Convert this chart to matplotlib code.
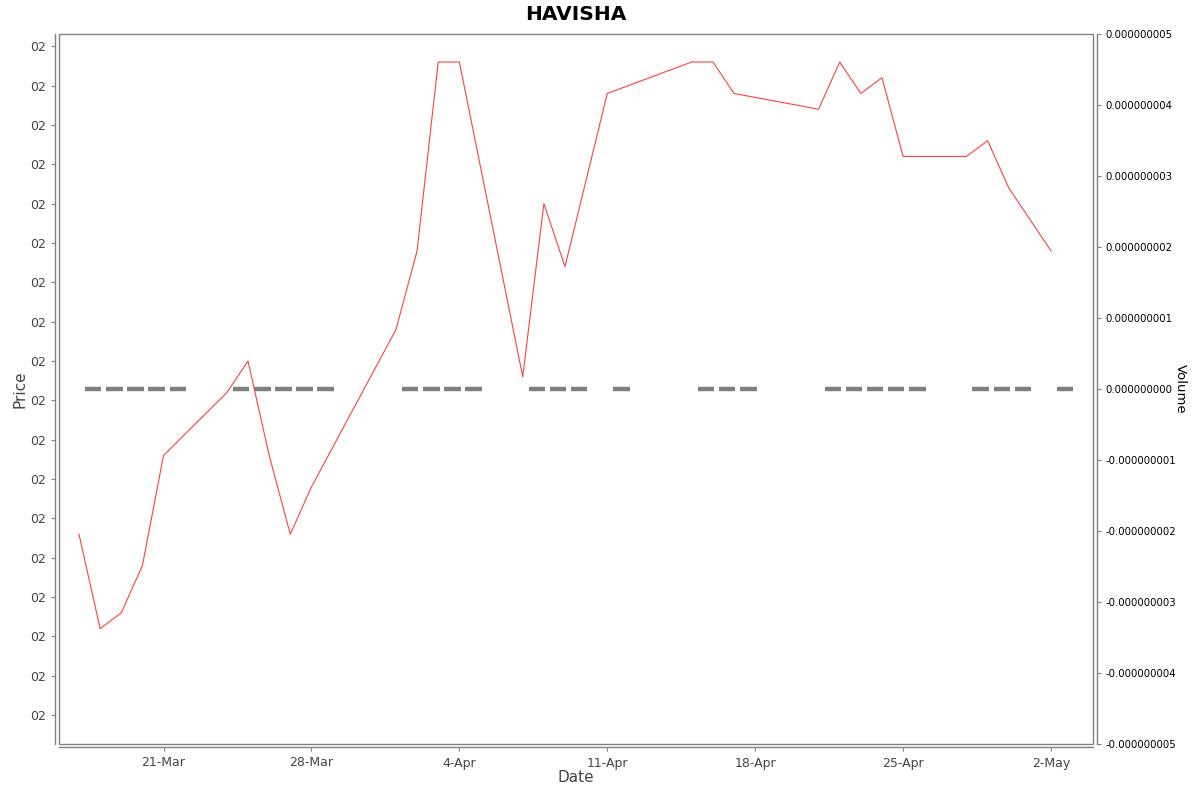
import matplotlib
matplotlib.use("Agg")
import matplotlib.pyplot as plt
import matplotlib.dates as mdates
from matplotlib.patches import Rectangle
from matplotlib.ticker import FuncFormatter
import numpy as np
import pandas as pd

dates = pd.to_datetime([
    "2025-03-17", "2025-03-18", "2025-03-19", "2025-03-20", "2025-03-21",
    "2025-03-24", "2025-03-25", "2025-03-26", "2025-03-27", "2025-03-28",
    "2025-04-01", "2025-04-02", "2025-04-03", "2025-04-04",
    "2025-04-07", "2025-04-08", "2025-04-09", "2025-04-11",
    "2025-04-15", "2025-04-16", "2025-04-17",
    "2025-04-21", "2025-04-22", "2025-04-23", "2025-04-24", "2025-04-25",
    "2025-04-28", "2025-04-29", "2025-04-30", "2025-05-02",
])
prices = [
    2.09, 2.03, 2.04, 2.07, 2.14,
    2.18, 2.20, 2.14, 2.09, 2.12,
    2.22, 2.27, 2.39, 2.39,
    2.19, 2.30, 2.26, 2.37,
    2.39, 2.39, 2.37,
    2.36, 2.39, 2.37, 2.38, 2.33,
    2.33, 2.34, 2.31, 2.27,
]
volumes = [0] * len(dates)

tick_dates = pd.to_datetime(["2025-03-21", "2025-03-28", "2025-04-04", "2025-04-11",
                             "2025-04-18", "2025-04-25", "2025-05-02"])
tick_labels = ["21-Mar", "28-Mar", "4-Apr", "11-Apr", "18-Apr", "25-Apr", "2-May"]
price_ticks = np.arange(1.975, 2.401, 0.025)
volume_ticks = np.arange(-5, 6) * 1e-9

GREY = "#808080"
TXT = "#444444"

fig = plt.figure(figsize=(12, 7.92), dpi=100)
ax = fig.add_axes([59 / 1200, 1 - 744 / 792, (1093 - 59) / 1200, (744 - 34) / 792])
ax2 = ax.twinx()

xnum = mdates.date2num(dates)

# volume bars (all zero, drawn as flat bars)
ax2.bar(xnum + 0.284, volumes, width=0.78, align="edge", color=GREY,
        edgecolor=GREY, linewidth=3.2)
ax2.set_ylim(-0.000000005, 0.000000005)
ax2.set_yticks(volume_ticks)
ax2.yaxis.set_major_formatter(FuncFormatter(lambda v, p: f"{v:.9f}".replace("-0.000000000", "0.000000000")))
ax2.yaxis.get_offset_text().set_visible(False)
ax2.set_ylabel("Volume", rotation=-90, labelpad=8, fontsize=9.5, color="black")
ax2.tick_params(axis="y", labelsize=7.3, colors="black", length=3, width=0.8,
                color=GREY, pad=3)

ax.plot(xnum, prices, color="#ff4040", linewidth=0.8, zorder=5)
ax.set_zorder(ax2.get_zorder() + 1)
ax.patch.set_visible(False)

ax.set_ylim(1.95670, 2.40778)
ax.set_yticks(price_ticks)
ax.yaxis.set_major_formatter(FuncFormatter(lambda v, p: "02"))

x0 = mdates.date2num(pd.Timestamp("2025-03-17")) - 0.946
x1 = mdates.date2num(pd.Timestamp("2025-05-02")) + 1.987
ax.set_xlim(x0, x1)
ax.set_xticks(mdates.date2num(tick_dates))
ax.set_xticklabels(tick_labels)

ax.tick_params(axis="both", labelsize=9, colors=TXT, length=3, width=0.8, color=GREY)
ax.set_xlabel("Date", fontsize=11, color=TXT, labelpad=0)
ax.set_ylabel("Price", fontsize=11, color=TXT, labelpad=2)
ax.set_title("HAVISHA", fontsize=14.5, fontweight="bold", pad=10)

for a in (ax, ax2):
    for s in a.spines.values():
        s.set_visible(False)
ax.spines["left"].set_visible(True)
ax.spines["bottom"].set_visible(True)
ax.spines["left"].set_position(("outward", 3))
ax.spines["bottom"].set_position(("outward", 2.5))
ax2.spines["right"].set_visible(True)
ax2.spines["right"].set_position(("outward", 3))
for s in (ax.spines["left"], ax.spines["bottom"], ax2.spines["right"]):
    s.set_color(GREY)
    s.set_linewidth(1)

ax.add_patch(Rectangle((0, 0), 1, 1, transform=ax.transAxes, fill=False,
                       edgecolor=GREY, linewidth=1, clip_on=False))

fig.savefig("out.png", dpi=100)
